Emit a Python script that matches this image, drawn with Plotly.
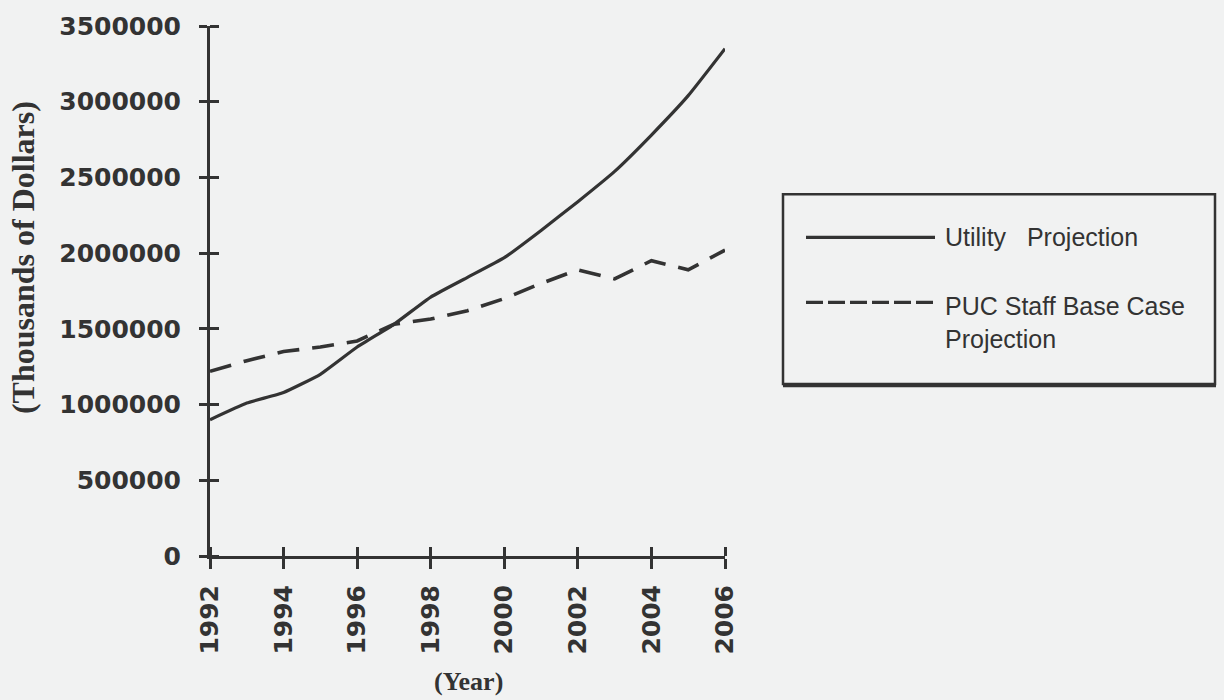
import plotly.graph_objects as go

years = list(range(1992, 2007))
utility_projection = [900000, 1010000, 1080000, 1200000, 1380000, 1530000, 1710000, 1840000,
                      1970000, 2150000, 2340000, 2540000, 2780000, 3040000, 3350000]
puc_staff_projection = [1220000, 1290000, 1350000, 1380000, 1420000, 1530000, 1565000, 1620000,
                        1700000, 1800000, 1890000, 1830000, 1950000, 1890000, 2020000]
y_ticks = [0, 500000, 1000000, 1500000, 2000000, 2500000, 3000000, 3500000]
x_ticks = [1992, 1994, 1996, 1998, 2000, 2002, 2004, 2006]
legend_labels = ["Utility   Projection", "PUC Staff Base Case<br>Projection"]

W, H = 1224, 700
L, R, T, B = 210, 725, 17, 556
BG = "#f1f2f2"
INK = "#333333"


def px(x):
    return (x - L) / (R - L)


def py(y):
    return (B - y) / (B - T)


fig = go.Figure()
fig.add_trace(go.Scatter(x=years, y=utility_projection, mode="lines",
                         line=dict(color=INK, width=3.2, shape="spline", smoothing=0.4),
                         showlegend=False, name="Utility Projection"))
fig.add_trace(go.Scatter(x=years, y=puc_staff_projection, mode="lines",
                         line=dict(color=INK, width=3.6, dash="22px,13px"),
                         showlegend=False, name="PUC Staff Base Case Projection"))

tickfont = dict(family="DejaVu Sans", size=25, color=INK, weight="bold")

# inside half of each crossing tick: minor ticks nudged off the major positions
x_minor = [v + 1e-6 for v in x_ticks]
y_minor = [v + 0.5 for v in y_ticks]

fig.update_layout(
    width=W, height=H,
    margin=dict(l=L, r=W - R, t=T, b=H - B, pad=0),
    paper_bgcolor=BG, plot_bgcolor=BG,
    xaxis=dict(range=[1992, 2006], tickvals=x_ticks, ticktext=[str(v) for v in x_ticks],
               tickangle=-90, showgrid=False, zeroline=False,
               showline=True, linecolor=INK, linewidth=3,
               ticks="outside", ticklen=10, tickwidth=2.5, tickcolor=INK,
               tickfont=tickfont, ticklabelstandoff=6,
               minor=dict(tickmode="array", tickvals=x_minor, ticks="inside", ticklen=9,
                          tickwidth=2.5, tickcolor=INK, showgrid=False)),
    yaxis=dict(range=[0, 3500000], tickvals=y_ticks, ticktext=[str(v) for v in y_ticks],
               showgrid=False, zeroline=False,
               showline=True, linecolor=INK, linewidth=3,
               ticks="outside", ticklen=8, tickwidth=2.5, tickcolor=INK,
               tickfont=tickfont, ticklabelstandoff=13,
               minor=dict(tickmode="array", tickvals=y_minor, ticks="inside", ticklen=9,
                          tickwidth=2.5, tickcolor=INK, showgrid=False)),
)

fig.add_annotation(text="(Thousands of Dollars)", xref="paper", yref="paper",
                   x=px(23), y=py(253), textangle=-90, showarrow=False,
                   xanchor="center", yanchor="middle",
                   font=dict(family="Liberation Serif", size=32, color=INK, weight="bold"))
fig.add_annotation(text="(Year)", xref="paper", yref="paper",
                   x=px(468), y=py(684), showarrow=False,
                   xanchor="center", yanchor="middle",
                   font=dict(family="Liberation Serif", size=26, color=INK, weight="bold"))

# legend box
fig.add_shape(type="rect", xref="paper", yref="paper",
              x0=px(783), x1=px(1215), y0=py(381), y1=py(188),
              line=dict(color=INK, width=2.5), fillcolor="rgba(0,0,0,0)")
fig.add_shape(type="line", xref="paper", yref="paper",
              x0=px(783), x1=px(1216), y0=py(383), y1=py(383),
              line=dict(color=INK, width=2.5))
fig.add_shape(type="line", xref="paper", yref="paper",
              x0=px(806), x1=px(935), y0=py(232), y1=py(232),
              line=dict(color=INK, width=3.2))
fig.add_shape(type="line", xref="paper", yref="paper",
              x0=px(806), x1=px(935), y0=py(298), y1=py(298),
              line=dict(color=INK, width=3.2, dash="17px,5px"))
legfont = dict(family="Liberation Sans", size=25, color=INK)
fig.add_annotation(text=legend_labels[0], xref="paper", yref="paper",
                   x=px(943), y=py(232), showarrow=False, xanchor="left", yanchor="middle",
                   font=legfont)
fig.add_annotation(text=legend_labels[1], xref="paper", yref="paper",
                   x=px(943), y=py(319), showarrow=False, xanchor="left", yanchor="middle",
                   align="left", font=legfont)

fig.write_html("out.html")
